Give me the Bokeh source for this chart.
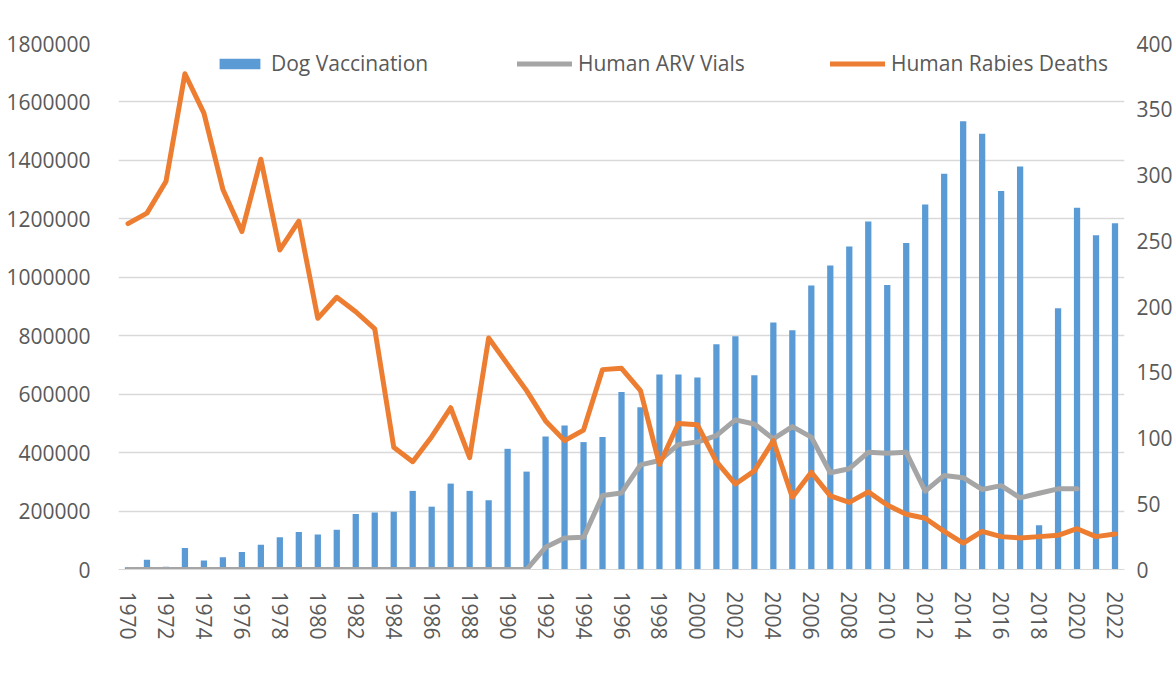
from bokeh.plotting import figure
from bokeh.models import (Range1d, LinearAxis, FixedTicker, NumeralTickFormatter,
                          Legend, LegendItem, ColumnDataSource)
from bokeh.embed import file_html
from bokeh.resources import INLINE

years = list(range(1970, 2023))
dog_vaccination = [8000, 33000, 9000, 74000, 31000, 42000, 60000, 85000, 110000, 128000,
                   120000, 136000, 190000, 195000, 198000, 269000, 215000, 294000, 269000, 237000,
                   413000, 335000, 455000, 493000, 436000, 453000, 607000, 555000, 667000, 667000,
                   657000, 771000, 798000, 665000, 845000, 819000, 972000, 1040000, 1105000, 1191000,
                   974000, 1117000, 1249000, 1354000, 1534000, 1491000, 1295000, 1379000, 151000, 894000,
                   1238000, 1144000, 1185000]
nan = float("nan")
human_arv_vials = [0] * 22 + [76000, 108000, 110000, 253000, 262000, 358000, 373000, 428000,
                              436000, 458000, 512000, 498000, 447000, 489000, 453000, 331000, 345000, 401000,
                              398000, 401000, 268000, 322000, 314000, 274000, 287000, 245000, 261000, 276000,
                              276000, nan, nan]
human_rabies_deaths = [263, 271, 295, 377, 347, 289, 257, 312, 243, 265,
                       191, 207, 196, 183, 93, 82, 101, 123, 85, 176,
                       156, 136, 113, 98, 106, 152, 153, 136, 80, 111,
                       110, 82, 65, 75, 98, 55, 74, 56, 51, 59,
                       49, 42, 39, 29, 20, 29, 25, 24, 25, 26,
                       31, 25, 27]
left_ticks = list(range(0, 1800001, 200000))
right_ticks = list(range(0, 401, 50))
x_ticks = list(range(1970, 2023, 2))
series_names = ["Dog Vaccination", "Human ARV Vials", "Human Rabies Deaths"]

BLUE = "#5b9bd5"
GRAY = "#a5a5a5"
ORANGE = "#ed7d31"
TEXT = "#595959"
GRID = "#d9d9d9"
FONT = "Open Sans"

src = ColumnDataSource(dict(year=years, dog=dog_vaccination, arv=human_arv_vials,
                            deaths=human_rabies_deaths))

p = figure(width=1175, height=682, output_backend="svg", toolbar_location=None,
           x_range=Range1d(1969.5, 2022.5), y_range=Range1d(0, 1800000),
           min_border_left=118, min_border_top=43, min_border_bottom=113, min_border_right=0)
p.extra_y_ranges = {"deaths": Range1d(0, 400)}
p.outline_line_color = None
p.background_fill_color = "white"
p.border_fill_color = "white"

bars = p.vbar(x="year", top="dog", width=0.33, bottom=0, source=src, fill_color=BLUE, line_color=None)
arv = p.line(x="year", y="arv", source=src, line_color=GRAY, line_width=5,
             line_join="round", line_cap="round")
deaths = p.line(x="year", y="deaths", source=src, line_color=ORANGE, line_width=5,
                line_join="round", line_cap="round", y_range_name="deaths")

# axes
xa = p.xaxis[0]
xa.ticker = FixedTicker(ticks=x_ticks)
xa.major_label_orientation = "vertical"
xa.major_tick_line_color = None
xa.minor_tick_line_color = None
xa.axis_line_color = GRID
xa.axis_line_width = 1
xa.major_label_text_font = FONT
xa.major_label_text_font_size = "21px"
xa.major_label_text_color = TEXT
xa.major_label_standoff = 16

ya = p.yaxis[0]
ya.ticker = FixedTicker(ticks=left_ticks)
ya.formatter = NumeralTickFormatter(format="0")
ya.major_tick_line_color = None
ya.minor_tick_line_color = None
ya.axis_line_color = None
ya.major_label_text_font = FONT
ya.major_label_text_font_size = "21px"
ya.major_label_text_color = TEXT
ya.major_label_standoff = 22

ra = LinearAxis(y_range_name="deaths", ticker=FixedTicker(ticks=right_ticks))
ra.major_tick_line_color = None
ra.minor_tick_line_color = None
ra.axis_line_color = None
ra.major_label_text_font = FONT
ra.major_label_text_font_size = "21px"
ra.major_label_text_color = TEXT
ra.major_label_standoff = 6
p.add_layout(ra, "right")

p.xgrid.grid_line_color = None
p.ygrid.grid_line_color = GRID
p.ygrid.grid_line_width = 1.5
p.ygrid.ticker = FixedTicker(ticks=left_ticks)

# legends, one per item, placed along the top
for name, rend, xoff, gw in [(series_names[0], bars, 96, 51),
                             (series_names[1], arv, 399, 55),
                             (series_names[2], deaths, 712, 55)]:
    lg = Legend(items=[LegendItem(label=name, renderers=[rend])],
                location=(xoff, 492), orientation="horizontal",
                glyph_width=gw, glyph_height=13, label_standoff=6,
                padding=0, margin=0, spacing=0,
                border_line_color=None, background_fill_alpha=0,
                label_text_font=FONT, label_text_font_size="21px",
                label_text_color=TEXT)
    p.add_layout(lg, "center")

open("out.html", "w").write(file_html(p, INLINE))
